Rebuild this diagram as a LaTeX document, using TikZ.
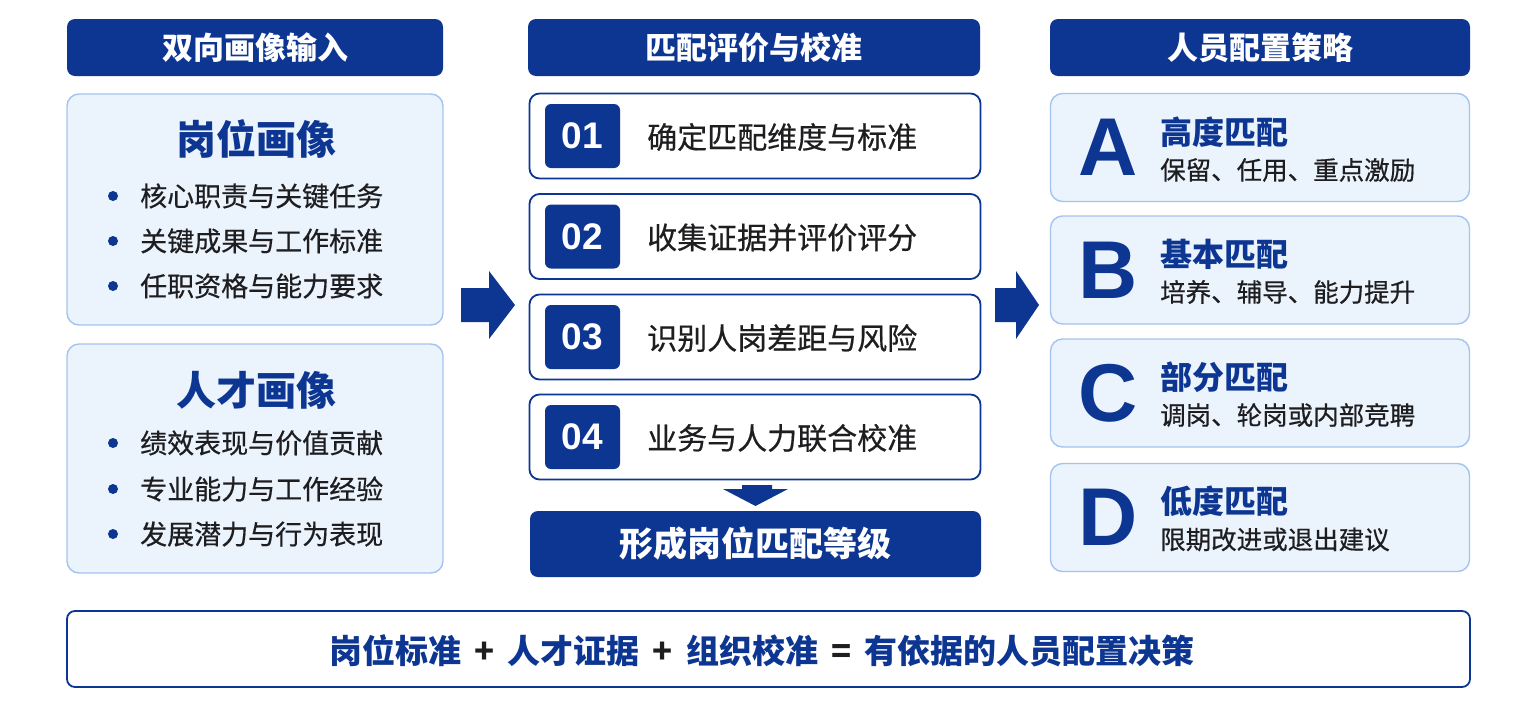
\documentclass[tikz,border=0pt]{standalone}
\usepackage{fontspec}
\setmainfont{Noto Sans CJK SC}
\newfontfamily\medfont{Noto Sans CJK SC}[FakeBold=0.5]
\newfontfamily\letterfont{Liberation Sans}
\newcommand\myfs[1]{\fontsize{#1}{#1}\selectfont}
\definecolor{dblue}{RGB}{13,54,146}
\definecolor{lfill}{RGB}{235,243,253}
\definecolor{lborder}{RGB}{162,196,238}
\definecolor{txt}{RGB}{30,30,32}
\begin{document}
\begin{tikzpicture}[x=1pt,y=-1pt,
  hdr/.style={fill=dblue,rounded corners=8pt,inner sep=0pt,text=white,font=\bfseries\myfs{31}},
  panel/.style={fill=lfill,draw=lborder,line width=1.4pt,rounded corners=12pt,inner sep=0pt},
  stepbox/.style={fill=white,draw=dblue,line width=1.8pt,rounded corners=10pt,inner sep=0pt,minimum width=451pt,minimum height=85pt},
  numbox/.style={fill=dblue,rounded corners=6pt,inner sep=0pt,minimum width=75pt,minimum height=64pt,text=white,font=\letterfont\bfseries\myfs{37}},
  steptext/.style={anchor=west,inner sep=0pt,text=txt,font=\medfont\myfs{30}},
  ptitle/.style={inner sep=0pt,text=dblue,font=\bfseries\myfs{40}},
  bullettext/.style={anchor=west,inner sep=0pt,text=txt,font=\medfont\myfs{27}},
  bdot/.style={circle,fill=dblue,inner sep=0pt,minimum size=10pt},
  card/.style={fill=lfill,draw=lborder,line width=1.4pt,rounded corners=12pt,inner sep=0pt,minimum width=419pt,minimum height=108pt},
  letter/.style={inner sep=0pt,text=dblue,font=\letterfont\bfseries\myfs{82}},
  ctitle/.style={anchor=west,inner sep=0pt,text=dblue,font=\bfseries\myfs{32}},
  csub/.style={anchor=west,inner sep=0pt,text=txt,font=\medfont\myfs{25.5}},
  opsign/.style={text=txt},
  blockarrow/.style={fill=dblue}
]
\useasboundingbox (0,0) rectangle (1534,718);
\fill[white] (0,0) rectangle (1534,718);

% headers
\node[hdr,minimum width=376pt,minimum height=57pt] (h1) at (255,47.5) {双向画像输入};
\node[hdr,minimum width=452pt,minimum height=57pt] (h2) at (754,47.5) {匹配评价与校准};
\node[hdr,minimum width=420pt,minimum height=57pt] (h3) at (1260,47.5) {人员配置策略};

% left panels
\node[panel,minimum width=376pt,minimum height=231pt] (p1) at (255,209.5) {};
\node[ptitle] (p1t) at (256,139) {岗位画像};
\node[bdot] (d11) at (113,196) {};
\node[bullettext] (b11) at (140,196) {核心职责与关键任务};
\node[bdot] (d12) at (113,241) {};
\node[bullettext] (b12) at (140,241) {关键成果与工作标准};
\node[bdot] (d13) at (113,286) {};
\node[bullettext] (b13) at (140,286) {任职资格与能力要求};

\node[panel,minimum width=376pt,minimum height=229pt] (p2) at (255,458.5) {};
\node[ptitle] (p2t) at (256,390) {人才画像};
\node[bdot] (d21) at (113,443) {};
\node[bullettext] (b21) at (140,443) {绩效表现与价值贡献};
\node[bdot] (d22) at (113,489) {};
\node[bullettext] (b22) at (140,489) {专业能力与工作经验};
\node[bdot] (d23) at (113,534) {};
\node[bullettext] (b23) at (140,534) {发展潜力与行为表现};

% middle steps
\node[stepbox] (s1) at (755,136) {};
\node[numbox] (n1) at (582.5,136) {01};
\node[steptext] (t1) at (647,137) {确定匹配维度与标准};
\node[stepbox] (s2) at (755,236.5) {};
\node[numbox] (n2) at (582.5,236.5) {02};
\node[steptext] (t2) at (647,237.5) {收集证据并评价评分};
\node[stepbox] (s3) at (755,337) {};
\node[numbox] (n3) at (582.5,337) {03};
\node[steptext] (t3) at (647,338) {识别人岗差距与风险};
\node[stepbox] (s4) at (755,437) {};
\node[numbox] (n4) at (582.5,437) {04};
\node[steptext] (t4) at (647,438) {业务与人力联合校准};

\node[hdr,minimum width=451pt,minimum height=66pt,font=\bfseries\myfs{34}] (res) at (755.5,544) {形成岗位匹配等级};

% down arrow
\fill[blockarrow] (742,485) -- (772,485) -- (772,489) -- (788,489) -- (755.5,506) -- (723,489) -- (742,489) -- cycle;

% right arrows
\fill[blockarrow] (461,288) -- (489,288) -- (489,271) -- (515,305) -- (489,339) -- (489,322) -- (461,322) -- cycle;
\fill[blockarrow] (995,288) -- (1016,288) -- (1016,271) -- (1039,305) -- (1016,339) -- (1016,322) -- (995,322) -- cycle;

% right cards
\node[card] (cA) at (1260,147.5) {};
\node[letter] (lA) at (1108,147.5) {A};
\node[ctitle] (tA) at (1160,132) {高度匹配};
\node[csub] (sA) at (1160,170) {保留、任用、重点激励};

\node[card] (cB) at (1260,270) {};
\node[letter] (lB) at (1108,270) {B};
\node[ctitle] (tB) at (1160,254) {基本匹配};
\node[csub] (sB) at (1160,292) {培养、辅导、能力提升};

\node[card] (cC) at (1260,393) {};
\node[letter] (lC) at (1108,393) {C};
\node[ctitle] (tC) at (1160,377) {部分匹配};
\node[csub] (sC) at (1160,415) {调岗、轮岗或内部竞聘};

\node[card] (cD) at (1260,517.5) {};
\node[letter] (lD) at (1108,517.5) {D};
\node[ctitle] (tD) at (1160,501.5) {低度匹配};
\node[csub] (sD) at (1160,539.5) {限期改进或退出建议};

% bottom bar
\node[fill=white,draw=dblue,line width=1.8pt,rounded corners=8pt,inner sep=0pt,minimum width=1403pt,minimum height=76pt] (bot) at (768.5,649) {};
\node[inner sep=0pt,text=dblue,font=\bfseries\myfs{33}] (bt) at (762,651) {岗位标准\hspace{13pt}\textcolor{txt}{+}\hspace{13pt}人才证据\hspace{13pt}\textcolor{txt}{+}\hspace{13pt}组织校准\hspace{13pt}\textcolor{txt}{=}\hspace{13pt}有依据的人员配置决策};
\end{tikzpicture}
\end{document}
